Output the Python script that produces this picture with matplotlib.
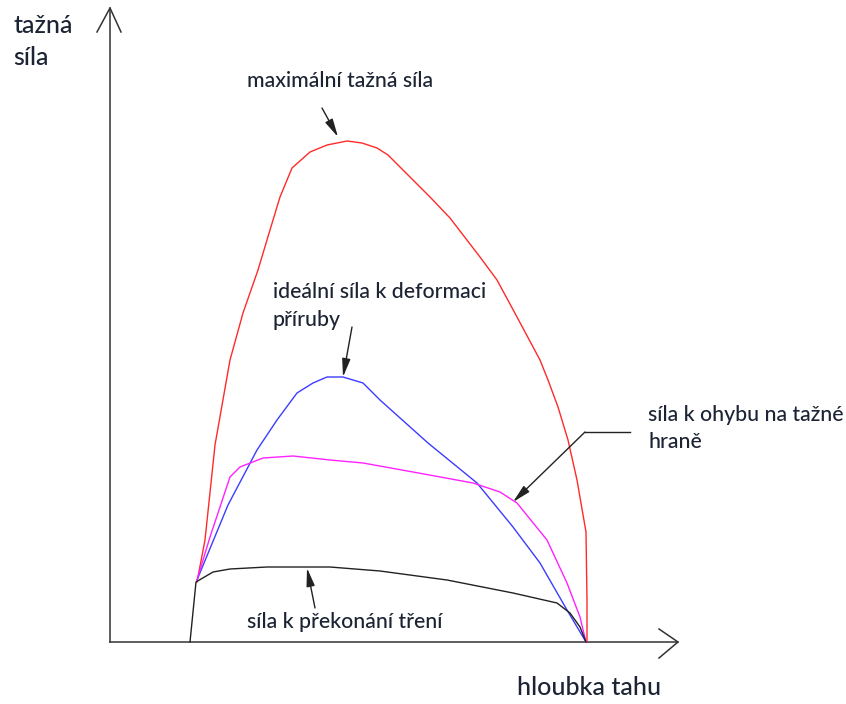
import matplotlib
matplotlib.use("Agg")
import matplotlib.pyplot as plt

# schematic curves: depth (x) vs. force (y), units ~ pixels from the origin
red_x = [87, 95, 105, 120, 133, 148, 160, 170, 182, 200, 217, 237, 252, 267, 278,
         290, 320, 340, 370, 387, 407, 430, 438, 448, 458, 467, 476, 477, 477]
red_y = [60, 102, 197, 282, 329, 372, 412, 445, 474, 490, 497, 501, 499, 494, 487,
         475, 445, 424, 385, 362, 325, 282, 262, 235, 202, 162, 110, 40, 0]

blue_x = [87, 118, 147, 167, 187, 203, 217, 233, 253, 270, 318, 367, 403, 430, 457, 476]
blue_y = [62, 137, 192, 222, 249, 259, 265, 265, 259, 242, 199, 159, 115, 79, 32, 0]

mag_x = [87, 100, 120, 130, 153, 183, 220, 253, 303, 363, 390, 407, 437, 457, 470, 476]
mag_y = [62, 105, 165, 175, 184, 186, 182, 179, 170, 159, 150, 139, 102, 59, 25, 0]

blk_x = [80, 86, 103, 120, 157, 220, 270, 337, 403, 447, 460, 470, 476]
blk_y = [0, 60, 70, 73, 75, 75, 71, 62, 49, 39, 29, 15, 0]

FONT = ["Lato", "DejaVu Sans"]
TXT = "#1c2433"
AX = "#333333"
LBL = 15.3   # annotation size
AXL = 18     # axis label size

fig = plt.figure(figsize=(8.46, 7.04), dpi=100)
ax = fig.add_axes([0, 0, 1, 1])
ax.set_xlim(-110, 736)
ax.set_ylim(-62, 642)
ax.axis("off")

# axes with open arrowheads
ax.plot([0, 0], [0, 634], color=AX, lw=1.1)
ax.plot([-13, 0, 11], [610, 634, 610], color=AX, lw=1.1)
ax.plot([0, 568], [0, 0], color=AX, lw=1.1)
ax.plot([549, 568, 549], [13, 0, -16], color=AX, lw=1.1)

ax.plot(red_x, red_y, color="#ff2a2a", lw=1.0)
ax.plot(blue_x, blue_y, color="#3c3cff", lw=1.0)
ax.plot(mag_x, mag_y, color="#ff22ff", lw=1.0)
ax.plot(blk_x, blk_y, color="#222222", lw=1.0)

arrow = dict(arrowstyle="-|>,head_length=1.1,head_width=0.25", color="#222222",
             lw=1.0, shrinkA=0, shrinkB=0)


def label(x, y, s, size=LBL):
    ax.text(x, y, s, fontsize=size, family=FONT, color=TXT, fontweight="medium",
            ha="left", va="baseline")


label(-97, 609, "tažná", AXL)
label(-97, 577, "síla", AXL)
label(407, -53, "hloubka tahu", AXL)

label(137, 555, "maximální tažná síla")
ax.annotate("", xy=(228, 505), xytext=(212, 534), arrowprops=arrow)

label(163, 344, "ideální síla k deformaci")
label(163, 316, "příruby")
ax.annotate("", xy=(233, 265), xytext=(242, 315), arrowprops=arrow)

label(538, 221, "síla k ohybu na tažné")
label(538, 194, "hraně")
ax.plot([520, 475], [210, 210], color="#222222", lw=1.0)
ax.annotate("", xy=(403, 140), xytext=(475, 210), arrowprops=arrow)

label(137, 14, "síla k překonání tření")
ax.annotate("", xy=(197, 74), xytext=(205, 34), arrowprops=arrow)

fig.savefig("out.png", dpi=100, facecolor="white")
